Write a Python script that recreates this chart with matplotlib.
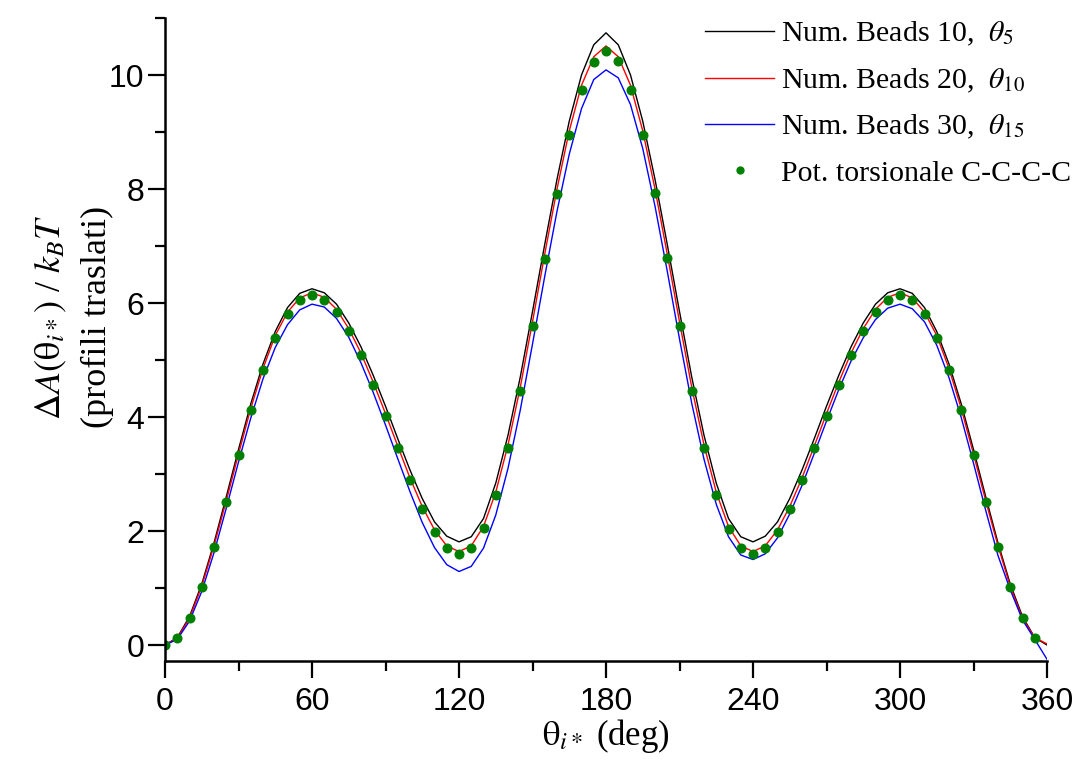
import numpy as np
import matplotlib.pyplot as plt

plt.rcParams['mathtext.fontset'] = 'stix'

# angles (deg)
theta = np.arange(0, 361, 5)
theta_pot = np.arange(0, 356, 5)

# Num. Beads 10
beads10 = [0.00, 0.13, 0.50, 1.07, 1.79, 2.60, 3.43, 4.23, 4.93, 5.50, 5.92, 6.17, 6.25,
           6.18, 5.98, 5.65, 5.23, 4.73, 4.19, 3.62, 3.07, 2.57, 2.16, 1.91, 1.81,
           1.90, 2.22, 2.84, 3.68, 4.70, 5.85, 7.03, 8.17, 9.19, 10.00, 10.53, 10.74,
           10.53, 10.00, 9.19, 8.17, 7.03, 5.85, 4.70, 3.68, 2.84, 2.22, 1.90, 1.81,
           1.91, 2.16, 2.57, 3.07, 3.62, 4.19, 4.73, 5.23, 5.65, 5.98, 6.18, 6.25,
           6.17, 5.92, 5.50, 4.93, 4.23, 3.43, 2.60, 1.79, 1.07, 0.50, 0.13, 0.00]

# Num. Beads 20
beads20 = [0.00, 0.12, 0.47, 1.03, 1.74, 2.53, 3.35, 4.15, 4.85, 5.43, 5.84, 6.09, 6.18,
           6.10, 5.89, 5.55, 5.12, 4.61, 4.06, 3.49, 2.93, 2.43, 2.02, 1.74, 1.64,
           1.74, 2.08, 2.68, 3.51, 4.52, 5.67, 6.86, 8.00, 9.02, 9.82, 10.32, 10.51,
           10.32, 9.82, 9.02, 8.00, 6.86, 5.67, 4.52, 3.51, 2.68, 2.08, 1.74, 1.64,
           1.74, 2.02, 2.43, 2.93, 3.49, 4.06, 4.61, 5.12, 5.55, 5.89, 6.10, 6.18,
           6.09, 5.84, 5.43, 4.85, 4.15, 3.35, 2.53, 1.74, 1.03, 0.47, 0.13, 0.02]

# Num. Beads 30
beads30 = [0.00, 0.10, 0.42, 0.94, 1.62, 2.40, 3.21, 3.98, 4.67, 5.22, 5.62, 5.88, 5.98,
           5.93, 5.73, 5.40, 4.95, 4.43, 3.86, 3.27, 2.69, 2.15, 1.71, 1.41, 1.29,
           1.38, 1.70, 2.28, 3.10, 4.12, 5.28, 6.47, 7.61, 8.61, 9.41, 9.92, 10.09,
           9.95, 9.48, 8.71, 7.70, 6.56, 5.37, 4.24, 3.26, 2.47, 1.90, 1.58, 1.50,
           1.60, 1.88, 2.30, 2.80, 3.36, 3.93, 4.48, 4.98, 5.39, 5.71, 5.91, 5.98,
           5.90, 5.67, 5.26, 4.69, 3.99, 3.19, 2.36, 1.57, 0.97, 0.44, 0.10, -0.25]

# Pot. torsionale C-C-C-C
pot = [0.00, 0.12, 0.47, 1.02, 1.72, 2.51, 3.33, 4.12, 4.82, 5.39, 5.80, 6.05, 6.14,
       6.06, 5.85, 5.51, 5.08, 4.57, 4.02, 3.45, 2.89, 2.39, 1.98, 1.71, 1.60,
       1.71, 2.05, 2.64, 3.46, 4.46, 5.60, 6.78, 7.92, 8.94, 9.73, 10.23, 10.42,
       10.24, 9.74, 8.95, 7.93, 6.79, 5.59, 4.45, 3.46, 2.64, 2.04, 1.71, 1.60,
       1.71, 1.98, 2.39, 2.89, 3.45, 4.02, 4.57, 5.08, 5.51, 5.85, 6.06, 6.14,
       6.05, 5.80, 5.39, 4.82, 4.12, 3.33, 2.51, 1.72, 1.02, 0.47, 0.12]

fig = plt.figure(figsize=(10.77, 7.63), dpi=100)
ax = fig.add_axes([165/1077, 1-661/763, (1047-165)/1077, (661-18)/763])

ax.plot(theta, beads10, color='black', lw=1.0, label=r'Num. Beads 10,  $\theta_5$')
ax.plot(theta, beads20, color='red', lw=1.0, label=r'Num. Beads 20,  $\theta_{10}$')
ax.plot(theta, beads30, color='blue', lw=1.0, label=r'Num. Beads 30,  $\theta_{15}$')
ax.plot(theta_pot, pot, 'o', color='green', ms=6.2, label='Pot. torsionale C-C-C-C')

ax.set_xlim(0, 360)
ax.set_ylim(-0.28, 11)
ax.set_xticks(np.arange(0, 361, 60))
ax.set_xticks(np.arange(0, 361, 30), minor=True)
ax.set_yticks(np.arange(0, 11, 2))
ax.set_yticks(np.arange(0, 12, 1), minor=True)

for s in ['top', 'right']:
    ax.spines[s].set_visible(False)
for s in ['left', 'bottom']:
    ax.spines[s].set_linewidth(1.8)

ax.tick_params(which='major', direction='out', length=12, width=1.6, labelsize=23)
ax.tick_params(axis='x', which='major', pad=7)
ax.tick_params(axis='y', which='major', pad=3)
ax.tick_params(which='minor', direction='out', length=7, width=1.6)
for lab in ax.get_xticklabels() + ax.get_yticklabels():
    lab.set_family('Liberation Sans')

ax.set_xlabel(r'$\mathrm{\theta}_{i*}$ (deg)', family='Liberation Serif',
              fontsize=25, labelpad=0)
ax.set_ylabel(r'$\Delta A(\mathrm{\theta}_{i*})$ / $k_B T$' + '\n(profili traslati)',
              family='Liberation Serif', fontsize=26, linespacing=1.45)
ax.yaxis.set_label_coords(-0.058, 0.535)

leg = ax.legend(loc='upper right', bbox_to_anchor=(1.006, 0.99),
                bbox_transform=fig.transFigure, frameon=False,
                prop={'family': 'Liberation Serif', 'size': 21.5},
                handlelength=2.3, handletextpad=0.25, labelspacing=0.62,
                borderaxespad=0.0, markerscale=0.8)

plt.savefig("out.png", dpi=100)
